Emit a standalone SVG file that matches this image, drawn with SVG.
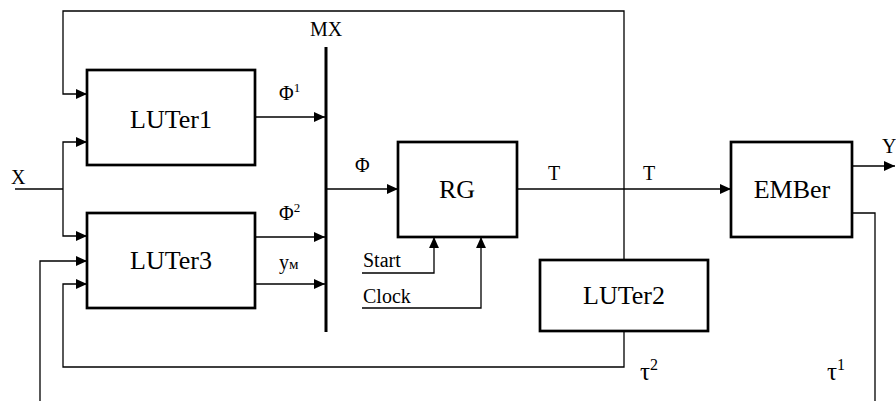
<svg xmlns="http://www.w3.org/2000/svg" width="896" height="401" viewBox="0 0 896 401">
<style>
.box{fill:#fff;stroke:#000;stroke-width:2.7}
.ln{fill:none;stroke:#000;stroke-width:1.3}
.bar{stroke:#000;stroke-width:3}
text{font-family:"Liberation Serif","Times New Roman",serif;fill:#000}
.big{font-size:26px;text-anchor:middle}
.lab{font-size:20px}
.tau{font-size:25px}
.sup{font-size:13px}
</style>
<defs>
<marker id="ah" viewBox="0 0 10 10" refX="10" refY="5" markerWidth="11" markerHeight="11" markerUnits="userSpaceOnUse" orient="auto">
<path d="M0,0.5 L10,5 L0,9.5 Z" fill="#000"/>
</marker>
</defs>
<rect width="896" height="401" fill="#fff"/>
<g id="connectors">
<polyline class="ln" points="624,260 624,11 63,11 63,94 87,94" marker-end="url(#ah)"/>
<polyline class="ln" points="15,189 63,189"/>
<polyline class="ln" points="63,189 63,142 87,142" marker-end="url(#ah)"/>
<polyline class="ln" points="63,189 63,236 87,236" marker-end="url(#ah)"/>
<polyline class="ln" points="40,401 40,261 87,261" marker-end="url(#ah)"/>
<polyline class="ln" points="624,332 624,367 63,367 63,284 87,284" marker-end="url(#ah)"/>
<line class="ln" x1="255" y1="117" x2="325" y2="117" marker-end="url(#ah)"/>
<line class="ln" x1="255" y1="237" x2="325" y2="237" marker-end="url(#ah)"/>
<line class="ln" x1="255" y1="284" x2="325" y2="284" marker-end="url(#ah)"/>
<line class="ln" x1="326" y1="189" x2="398" y2="189" marker-end="url(#ah)"/>
<polyline class="ln" points="362,273 434,273 434,237" marker-end="url(#ah)"/>
<polyline class="ln" points="362,308 481,308 481,237" marker-end="url(#ah)"/>
<line class="ln" x1="517" y1="189" x2="731" y2="189" marker-end="url(#ah)"/>
<line class="ln" x1="852" y1="166" x2="895" y2="166" marker-end="url(#ah)"/>
<polyline class="ln" points="852,213 875,213 875,401"/>
</g>
<g id="MX">
<line class="bar" x1="326" y1="47" x2="326" y2="332"/>
<text class="lab" x="326" y="36" text-anchor="middle">MX</text>
</g>
<g id="LUTer1">
<rect class="box" x="87" y="70" width="168" height="95"/>
<text class="big" x="171" y="128">LUTer1</text>
</g>
<g id="LUTer3">
<rect class="box" x="87" y="213" width="168" height="95"/>
<text class="big" x="171" y="269">LUTer3</text>
</g>
<g id="RG">
<rect class="box" x="398" y="142" width="119" height="95"/>
<text class="big" x="457" y="198">RG</text>
</g>
<g id="LUTer2">
<rect class="box" x="540" y="260" width="168" height="71"/>
<text class="big" x="624" y="304">LUTer2</text>
</g>
<g id="EMBer">
<rect class="box" x="731" y="142" width="121" height="95"/>
<text class="big" x="792" y="198">EMBer</text>
</g>
<g id="labels">
<text class="lab" x="11" y="184">X</text>
<text class="lab" x="279" y="100">Φ<tspan class="sup" dy="-8">1</tspan></text>
<text class="lab" x="279" y="220">Φ<tspan class="sup" dy="-8">2</tspan></text>
<text class="lab" x="279" y="269">y<tspan style="font-size:15px">м</tspan></text>
<text class="lab" x="355" y="172">Φ</text>
<text class="lab" x="548" y="180">T</text>
<text class="lab" x="643" y="180">T</text>
<text class="lab" x="363" y="267">Start</text>
<text class="lab" x="363" y="303">Clock</text>
<text class="tau" x="640" y="380">τ<tspan style="font-size:16px" dy="-10">2</tspan></text>
<text class="tau" x="827" y="380">τ<tspan style="font-size:16px" dy="-10">1</tspan></text>
<text class="lab" x="882" y="153">Y</text>
</g>
</svg>
